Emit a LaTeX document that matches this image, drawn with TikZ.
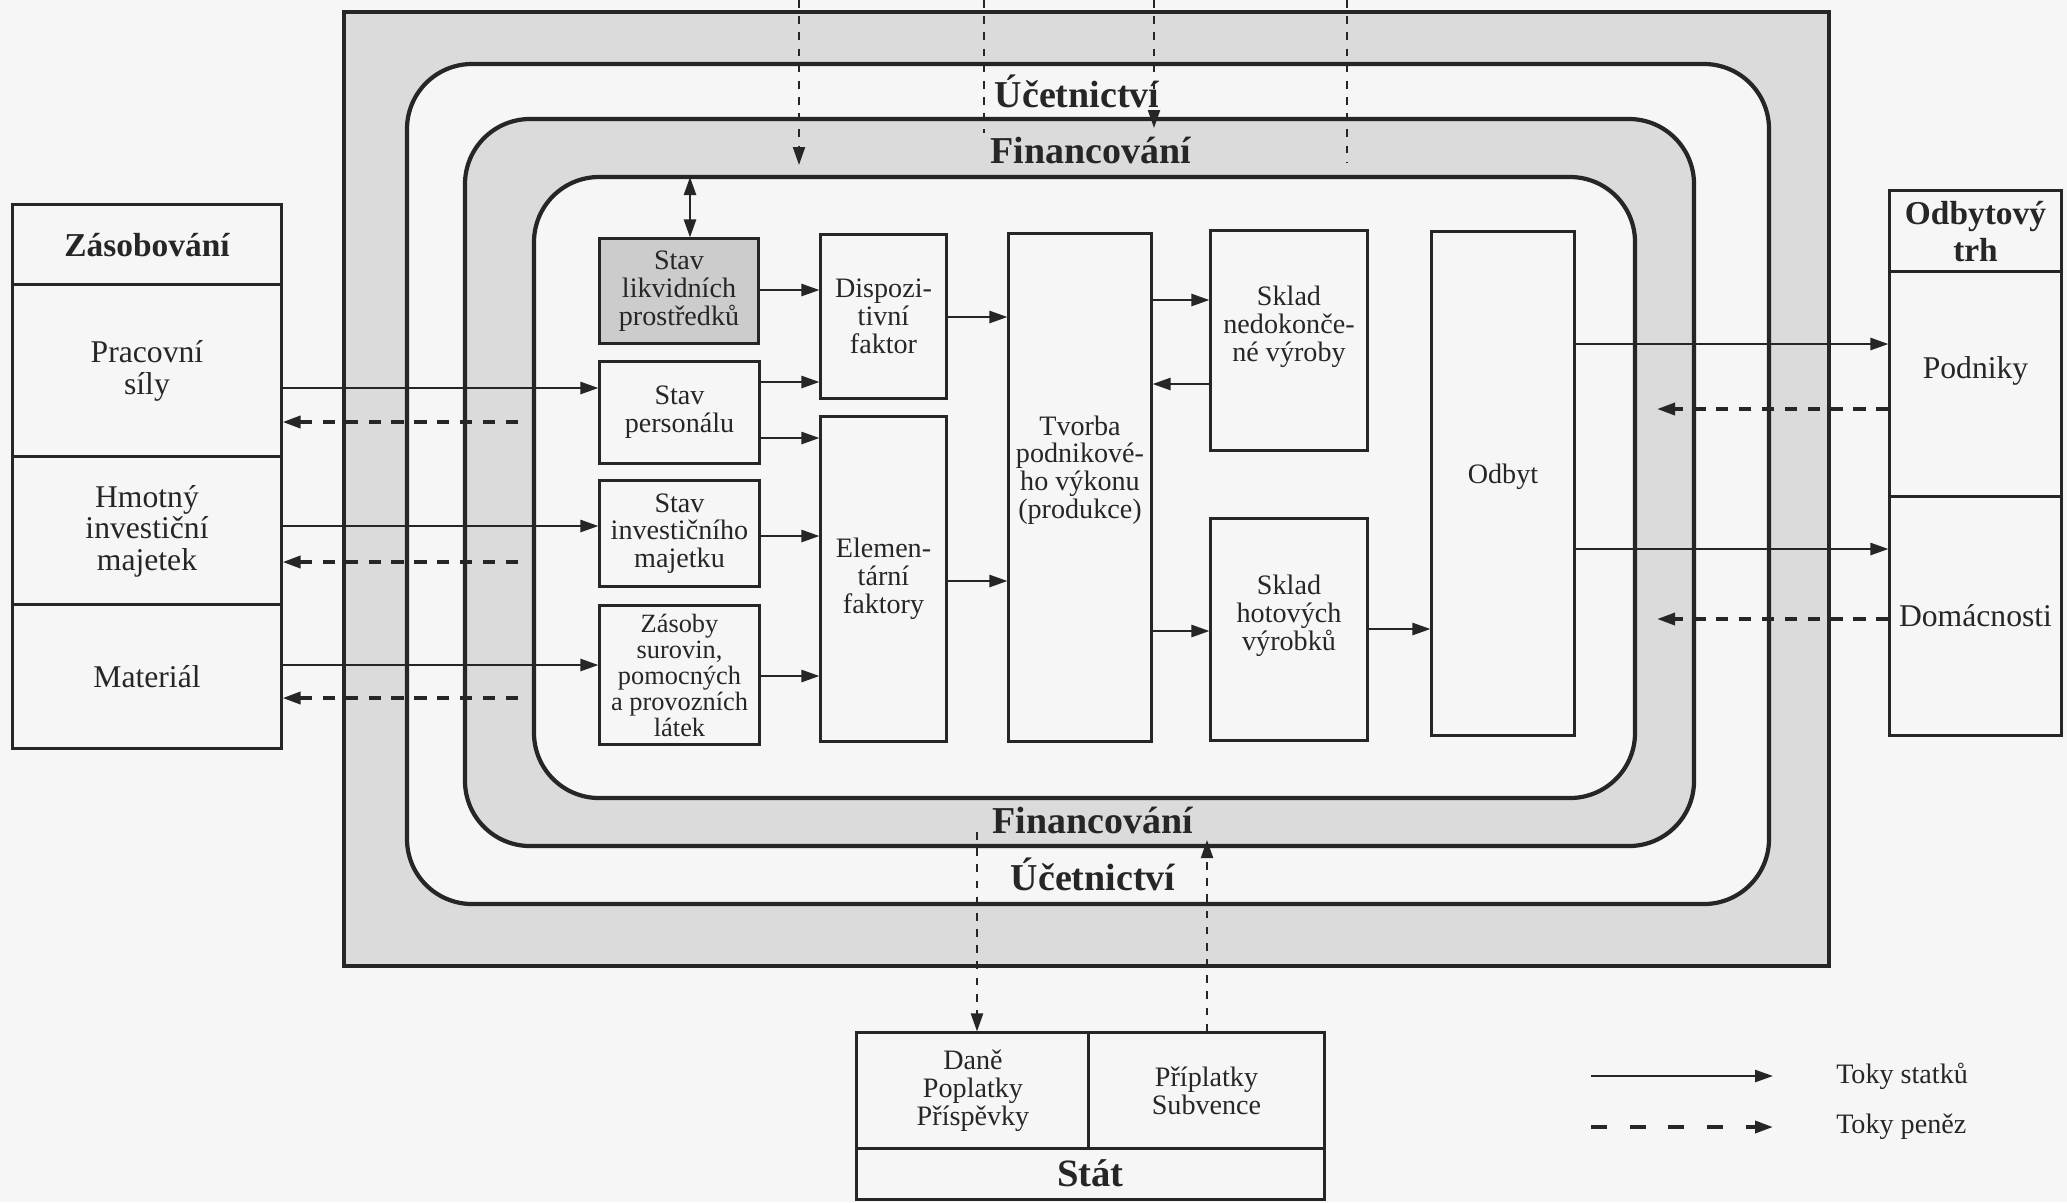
\documentclass[tikz,border=0pt]{standalone}
\usepackage{fontspec}
\setmainfont{Liberation Serif}
\usetikzlibrary{arrows.meta}

\definecolor{ink}{gray}{0.15}
\definecolor{paper}{gray}{0.965}
\definecolor{band}{gray}{0.86}
\definecolor{cash}{gray}{0.80}

\tikzset{
    box/.style = {draw = ink, line width = .85pt, fill = paper, text = ink, align = center, inner sep = 1pt,
                  font = \fontsize{8}{7.9}\selectfont},
    txt/.style = {text = ink, align = center, inner sep = 1pt, font = \fontsize{8}{7.9}\selectfont},
    market/.style = {box, font = \fontsize{9}{9}\selectfont},
    head/.style = {box, font = \fontsize{9.5}{10.5}\selectfont\bfseries},
    ring/.style = {draw = ink, line width = 1.2pt, rounded corners = .65cm},
    band label/.style = {text = ink, inner sep = 0pt, font = \fontsize{10.8}{12}\selectfont\bfseries},
    flow/.style = {->, ink, line width = .7pt},
    money/.style = {->, ink, line width = 1pt, dash pattern = on 3.5pt off 3pt},
    tick/.style = {ink, line width = .6pt, dash pattern = on 2.2pt off 2.4pt},
}

\begin{document}
\begin{tikzpicture}[x = .01cm, y = -.01cm, >= {Triangle[length = 1.8mm, width = 1.2mm]}]
    \fill[paper] (0, 0) rectangle (2067, 1202);
    \useasboundingbox (0, 0) rectangle (2067, 1202);

    % frames of the firm
    \draw[ink, line width = 1.3pt, fill = band] (344, 12) rectangle (1829, 966);
    \draw[ring, fill = paper] (407, 64) rectangle (1769, 904);
    \draw[ring, fill = band] (465, 119) rectangle (1694, 846);
    \draw[ring, fill = paper] (534, 177) rectangle (1635, 798);

    \node[band label, anchor = base] (acc-top) at (1077, 107) {Účetnictví};
    \node[band label, anchor = base] (fin-top) at (1091, 163) {Financování};
    \node[band label, anchor = base] (fin-bot) at (1093, 833) {Financování};
    \node[band label, anchor = base] (acc-bot) at (1093, 890) {Účetnictví};

    % supply market
    \node[head, minimum width = 2.68cm, minimum height = .80cm] (supply) at (147, 245) {Zásobování};
    \node[market, minimum width = 2.68cm, minimum height = 1.72cm] (labour) at (147, 371) {Pracovní\\síly};
    \node[market, minimum width = 2.68cm, minimum height = 1.48cm] (assets) at (147, 531) {Hmotný\\investiční\\majetek};
    \node[market, minimum width = 2.68cm, minimum height = 1.43cm] (material) at (147, 676.5) {Materiál};

    % sales market
    \node[head, minimum width = 1.71cm, minimum height = .81cm] (sales) at (1975.5, 231.5) {Odbytový\\trh};
    \node[market, minimum width = 1.71cm, minimum height = 2.25cm,
          label = {[txt, font = \fontsize{9}{9}\selectfont, yshift = .135cm]center:Podniky}] (firms) at (1975.5, 384.5) {};
    \node[market, minimum width = 1.71cm, minimum height = 2.38cm] (homes) at (1975.5, 616) {Domácnosti};

    % inside the firm
    \node[box, fill = cash, minimum width = 1.58cm, minimum height = 1.04cm] (cash) at (679, 291) {Stav\\likvidních\\prostředků};
    \node[box, minimum width = 1.59cm, minimum height = 1.01cm] (staff) at (679.5, 412.5) {Stav\\personálu};
    \node[box, minimum width = 1.59cm, minimum height = 1.05cm] (capital) at (679.5, 533.5) {Stav\\investičního\\majetku};
    \node[box, font = \fontsize{7.5}{7.4}\selectfont, minimum width = 1.59cm, minimum height = 1.38cm] (stocks) at (679.5, 675)
        {Zásoby\\surovin,\\pomocných\\a provozních\\látek};

    \node[box, minimum width = 1.25cm, minimum height = 1.63cm] (disp) at (883.5, 316.5) {Dispozi-\\tivní\\faktor};
    \node[box, minimum width = 1.25cm, minimum height = 3.24cm] (elem) at (883.5, 579) {Elemen-\\tární\\faktory};

    \node[box, minimum width = 1.42cm, minimum height = 5.07cm,
          label = {[txt, yshift = .175cm]center:Tvorba\\podnikové-\\ho výkonu\\(produkce)}] (prod) at (1080, 487.5) {};

    \node[box, minimum width = 1.56cm, minimum height = 2.19cm,
          label = {[txt, yshift = .135cm]center:Sklad\\nedokonče-\\né výroby}] (wip) at (1289, 340.5) {};
    \node[box, minimum width = 1.56cm, minimum height = 2.21cm,
          label = {[txt, yshift = .135cm]center:Sklad\\hotových\\výrobků}] (goods) at (1289, 629.5) {};

    \node[box, minimum width = 1.42cm, minimum height = 5.03cm,
          label = {[txt, yshift = .065cm]center:Odbyt}] (sale) at (1503, 483.5) {};

    % state
    \node[box, minimum width = 2.32cm, minimum height = 1.15cm] (taxes) at (973, 1090.5) {Daně\\Poplatky\\Příspěvky};
    \node[box, minimum width = 2.35cm, minimum height = 1.15cm] (grants) at (1206.5, 1090.5) {Příplatky\\Subvence};
    \node[box, font = \fontsize{11}{12}\selectfont\bfseries, minimum width = 4.67cm, minimum height = .51cm] (state) at (1090.5, 1173.5) {Stát};

    % goods flows
    \draw[flow] (labour.east |- 0,388) -- (staff.west |- 0,388);
    \draw[flow] (assets.east |- 0,526) -- (capital.west |- 0,526);
    \draw[flow] (material.east |- 0,665) -- (stocks.west |- 0,665);

    \draw[flow] (cash.east |- 0,290) -- (disp.west |- 0,290);
    \draw[flow] (staff.east |- 0,382) -- (disp.west |- 0,382);
    \draw[flow] (staff.east |- 0,438) -- (elem.west |- 0,438);
    \draw[flow] (capital.east |- 0,536) -- (elem.west |- 0,536);
    \draw[flow] (stocks.east |- 0,676) -- (elem.west |- 0,676);
    \draw[flow] (disp.east |- 0,317) -- (prod.west |- 0,317);
    \draw[flow] (elem.east |- 0,581) -- (prod.west |- 0,581);
    \draw[flow] (prod.east |- 0,300) -- (wip.west |- 0,300);
    \draw[flow] (wip.west |- 0,384) -- (prod.east |- 0,384);
    \draw[flow] (prod.east |- 0,631) -- (goods.west |- 0,631);
    \draw[flow] (goods.east |- 0,629) -- (sale.west |- 0,629);
    \draw[flow] (sale.east |- 0,344) -- (firms.west |- 0,344);
    \draw[flow] (sale.east |- 0,549) -- (homes.west |- 0,549);

    \coordinate (core-top) at (690, 177);
    \draw[flow, <->] (core-top) -- (core-top |- cash.north);

    % money flows
    \coordinate (pay-l) at (518, 0);
    \coordinate (pay-r) at (1657, 0);
    \draw[money] (pay-l |- 0,422) -- (labour.east |- 0,422);
    \draw[money] (pay-l |- 0,562) -- (assets.east |- 0,562);
    \draw[money] (pay-l |- 0,698) -- (material.east |- 0,698);
    \draw[money] (firms.west |- 0,409) -- (pay-r |- 0,409);
    \draw[money] (homes.west |- 0,619) -- (pay-r |- 0,619);

    \coordinate (in-a) at (799, 0);
    \coordinate (in-b) at (984, 0);
    \coordinate (in-c) at (1154, 0);
    \coordinate (in-d) at (1347, 0);
    \draw[tick, ->] (in-a) -- ++(0, 165);
    \draw[tick] (in-b) -- ++(0, 133);
    \draw[tick, ->] (in-c) -- ++(0, 128);
    \draw[tick] (in-d) -- ++(0, 163);

    \coordinate (tax-out) at (977, 832);
    \coordinate (grant-in) at (1207, 840);
    \draw[tick, ->] (tax-out) -- (tax-out |- taxes.north);
    \draw[tick, ->] (grant-in |- grants.north) -- (grant-in);

    % legend
    \coordinate (key-a) at (1591, 1076);
    \coordinate (key-b) at (1773, 1076);
    \coordinate (key-c) at (1591, 1127);
    \coordinate (key-d) at (1773, 1127);
    \node[txt, anchor = west] (key-goods) at (1832, 1076) {Toky statků};
    \node[txt, anchor = west] (key-money) at (1832, 1127) {Toky peněz};
    \draw[flow] (key-a) -- (key-b);
    \draw[money, dash pattern = on 4.5pt off 6.5pt] (key-c) -- (key-d);
\end{tikzpicture}
\end{document}
